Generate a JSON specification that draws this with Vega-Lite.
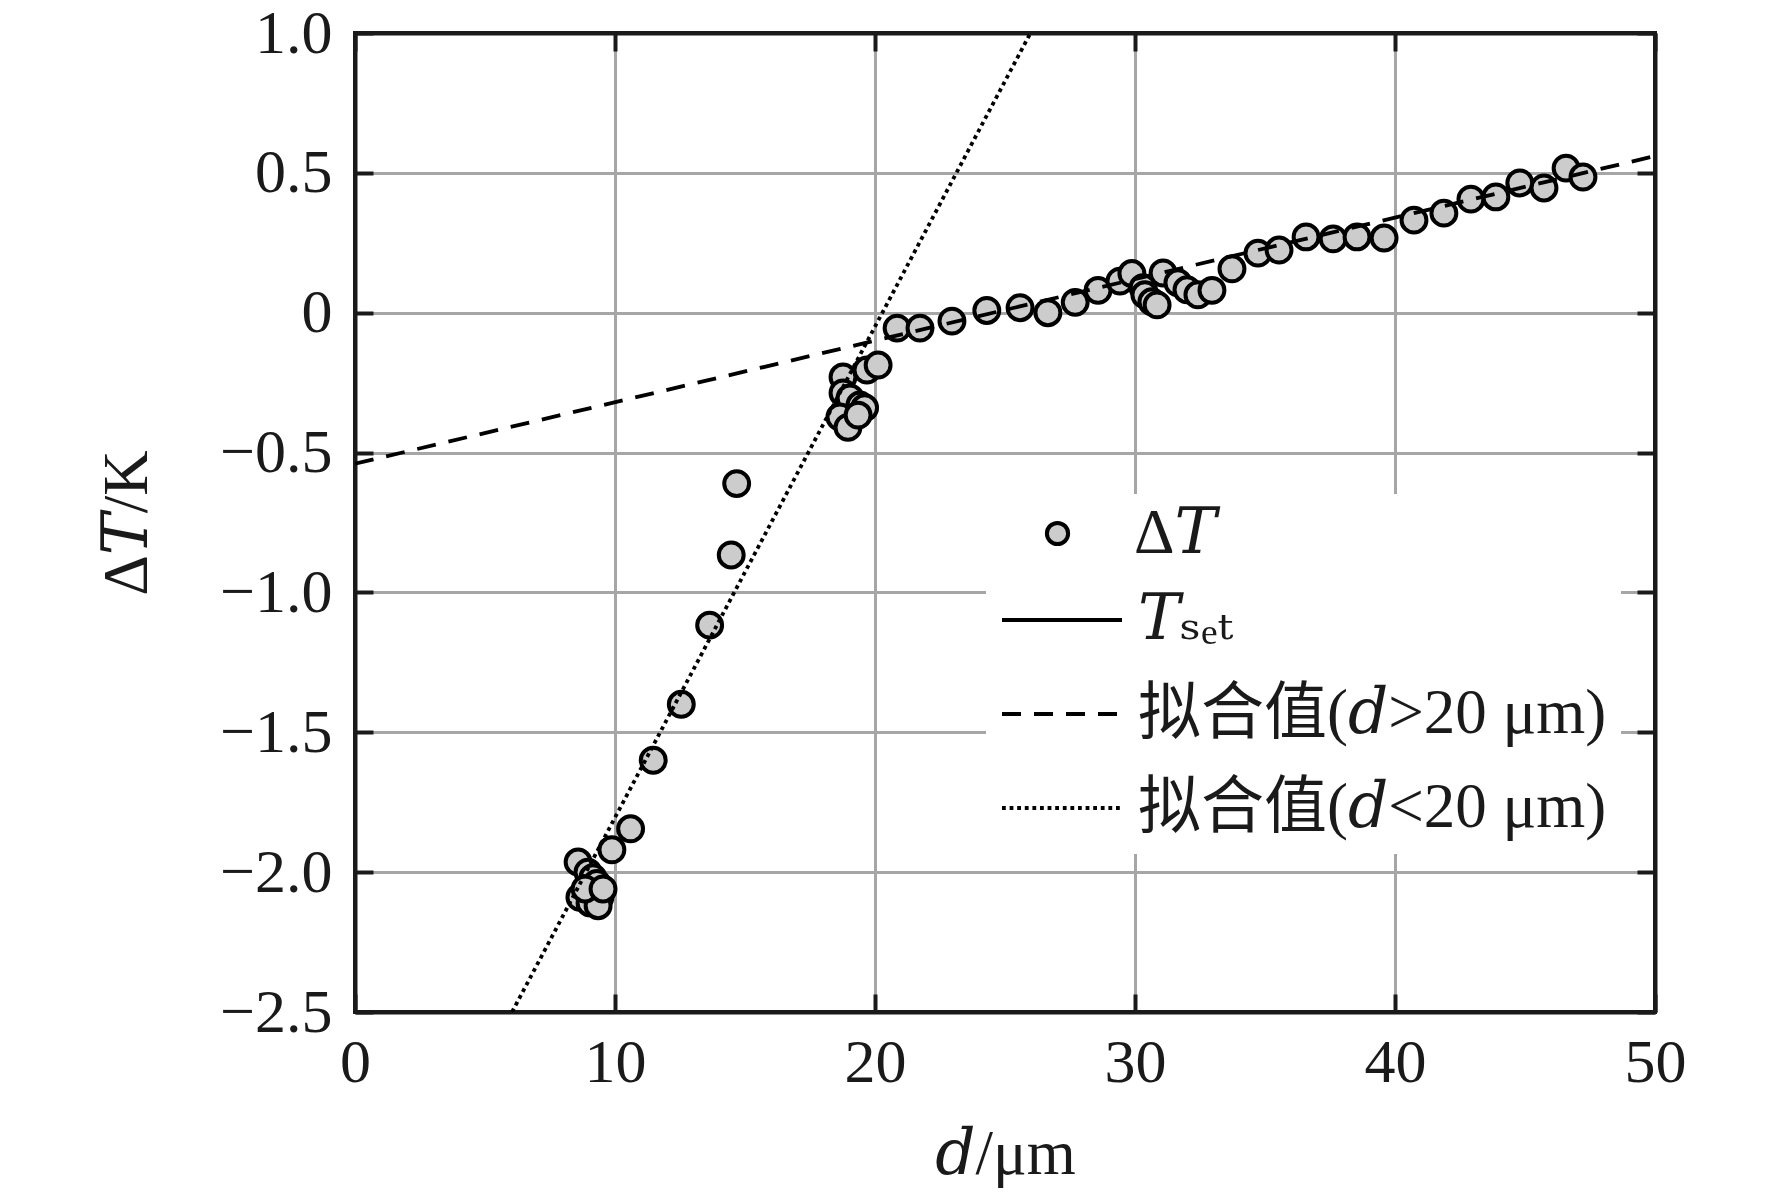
{
  "$schema": "https://vega.github.io/schema/vega-lite/v6.json",
  "width": 1300,
  "height": 979,
  "autosize": {"type": "none"},
  "padding": {"left": 355, "top": 33, "right": 117, "bottom": 187},
  "background": "white",
  "config": {
    "view": {"stroke": "#1a1a1a", "strokeWidth": 4},
    "font": "Liberation Serif"
  },
  "datasets": {
    "points": [
      {"d": 9.88, "dT": -1.92}, {"d": 8.58, "dT": -1.964}, {"d": 8.96, "dT": -2.0}, {"d": 9.15, "dT": -2.02},
      {"d": 9.3, "dT": -2.04}, {"d": 8.65, "dT": -2.09}, {"d": 9.04, "dT": -2.11}, {"d": 9.42, "dT": -2.09},
      {"d": 9.35, "dT": -2.12}, {"d": 8.85, "dT": -2.06}, {"d": 9.54, "dT": -2.06},
      {"d": 10.6, "dT": -1.845}, {"d": 11.47, "dT": -1.6}, {"d": 12.55, "dT": -1.4}, {"d": 13.64, "dT": -1.117},
      {"d": 14.47, "dT": -0.866}, {"d": 14.68, "dT": -0.611},
      {"d": 18.77, "dT": -0.23}, {"d": 18.77, "dT": -0.287}, {"d": 19.04, "dT": -0.305}, {"d": 19.42, "dT": -0.33},
      {"d": 19.6, "dT": -0.34}, {"d": 18.65, "dT": -0.373}, {"d": 18.96, "dT": -0.41}, {"d": 19.35, "dT": -0.366},
      {"d": 19.69, "dT": -0.205}, {"d": 20.12, "dT": -0.187},
      {"d": 20.85, "dT": -0.055}, {"d": 21.73, "dT": -0.055}, {"d": 22.96, "dT": -0.03}, {"d": 24.3, "dT": 0.008},
      {"d": 25.58, "dT": 0.018}, {"d": 26.65, "dT": 0.0}, {"d": 27.7, "dT": 0.037}, {"d": 28.58, "dT": 0.08},
      {"d": 29.42, "dT": 0.113}, {"d": 29.88, "dT": 0.14}, {"d": 30.31, "dT": 0.089}, {"d": 30.38, "dT": 0.064},
      {"d": 30.65, "dT": 0.039}, {"d": 30.85, "dT": 0.028}, {"d": 31.08, "dT": 0.142}, {"d": 31.65, "dT": 0.107},
      {"d": 32.0, "dT": 0.082}, {"d": 32.42, "dT": 0.064}, {"d": 32.96, "dT": 0.08}, {"d": 33.73, "dT": 0.157},
      {"d": 34.73, "dT": 0.213}, {"d": 35.54, "dT": 0.224}, {"d": 36.58, "dT": 0.271}, {"d": 37.62, "dT": 0.264},
      {"d": 38.54, "dT": 0.271}, {"d": 39.58, "dT": 0.267}, {"d": 40.73, "dT": 0.331}, {"d": 41.88, "dT": 0.356},
      {"d": 42.92, "dT": 0.406}, {"d": 43.88, "dT": 0.414}, {"d": 44.8, "dT": 0.464}, {"d": 45.73, "dT": 0.446},
      {"d": 46.58, "dT": 0.517}, {"d": 47.23, "dT": 0.485}
    ],
    "fits": [
      {"series": "拟合值(𝑑>20 μm)", "d": 0, "dT": -0.54},
      {"series": "拟合值(𝑑>20 μm)", "d": 50, "dT": 0.56},
      {"series": "拟合值(𝑑<20 μm)", "d": 6.04, "dT": -2.5},
      {"series": "拟合值(𝑑<20 μm)", "d": 25.98, "dT": 1.0}
    ]
  },
  "layer": [
    {
      "data": {"name": "points"},
      "mark": {"type": "point", "filled": false, "fill": "#cccccc", "fillOpacity": 1, "stroke": "black", "strokeWidth": 4, "size": 620, "opacity": 1},
      "encoding": {
        "x": {
          "field": "d", "type": "quantitative",
          "scale": {"domain": [0, 50], "nice": false, "zero": false},
          "axis": {
            "orient": "bottom", "values": [0, 10, 20, 30, 40, 50], "title": "𝑑/μm",
            "grid": true, "gridColor": "#a6a6a6", "gridWidth": 3,
            "gridOpacity": {"condition": {"test": "datum.value == 0 || datum.value == 50", "value": 0}, "value": 1},
            "tickSize": -18, "tickWidth": 4, "tickColor": "#1a1a1a",
            "domain": true, "domainColor": "#1a1a1a", "domainWidth": 4,
            "labelPadding": 38, "labelFontSize": 62, "labelFont": "Liberation Serif", "labelColor": "#1a1a1a", "labelFlush": false,
            "titleFontSize": 63, "titleFont": "Liberation Serif, DejaVu Serif", "titleFontWeight": "normal", "titleColor": "#1a1a1a", "titlePadding": 30
          }
        },
        "y": {
          "field": "dT", "type": "quantitative",
          "scale": {"domain": [-2.5, 1.0], "nice": false, "zero": false},
          "axis": {
            "orient": "left", "values": [-2.5, -2, -1.5, -1, -0.5, 0, 0.5, 1], "title": "Δ𝑇/K",
            "labelExpr": "datum.value == 0 ? '0' : format(datum.value, '.1f')",
            "grid": true, "gridColor": "#a6a6a6", "gridWidth": 3,
            "gridOpacity": {"condition": {"test": "datum.value == 1 || datum.value == -2.5", "value": 0}, "value": 1},
            "tickSize": -18, "tickWidth": 4, "tickColor": "#1a1a1a",
            "domain": true, "domainColor": "#1a1a1a", "domainWidth": 4,
            "labelPadding": 41, "labelFontSize": 62, "labelFont": "Liberation Serif", "labelColor": "#1a1a1a", "labelFlush": false,
            "titleFontSize": 63, "titleFont": "Liberation Serif, DejaVu Serif", "titleFontWeight": "normal", "titleColor": "#1a1a1a", "titlePadding": 60
          }
        },
        "shape": {
          "datum": "Δ𝑇", "type": "nominal",
          "scale": {"domain": ["Δ𝑇"], "range": ["circle"]},
          "legend": {
            "title": null,
            "orient": "none",
            "legendX": 671,
            "legendY": 469,
            "padding": 0,
            "zindex": 2,
            "symbolSize": 450,
            "symbolStrokeWidth": 4,
            "labelFont": "Liberation Serif, DejaVu Serif",
            "labelFontSize": 63,
            "labelColor": "#1a1a1a",
            "labelLimit": 0,
            "labelOffset": 45
          }
        }
      }
    },
    {
      "data": {"name": "fits"},
      "mark": {"type": "line", "color": "black", "strokeWidth": 3.8, "clip": true},
      "encoding": {
        "x": {
          "field": "d", "type": "quantitative",
          "axis": {"orient": "top", "values": [0, 10, 20, 30, 40, 50], "labels": false, "title": null, "grid": false,
                   "tickSize": -18, "tickWidth": 4, "tickColor": "#1a1a1a", "domain": true, "domainColor": "#1a1a1a", "domainWidth": 4}
        },
        "y": {
          "field": "dT", "type": "quantitative",
          "axis": {"orient": "right", "values": [-2.5, -2, -1.5, -1, -0.5, 0, 0.5, 1], "labels": false, "title": null, "grid": false,
                   "tickSize": -18, "tickWidth": 4, "tickColor": "#1a1a1a", "domain": true, "domainColor": "#1a1a1a", "domainWidth": 4}
        },
        "strokeDash": {
          "field": "series", "type": "nominal",
          "scale": {
            "domain": ["𝑇ₛₑₜ", "拟合值(𝑑>20 μm)", "拟合值(𝑑<20 μm)"],
            "range": [[1, 0], [19, 13], [3.8, 3.8]]
          },
          "legend": {
            "title": " ",
            "titleFontSize": 50,
            "titlePadding": 0,
            "orient": "none",
            "legendX": 631,
            "legendY": 461,
            "fillColor": "white",
            "padding": 14,
            "zindex": 1,
            "symbolType": "stroke",
            "symbolSize": 14400,
            "symbolStrokeWidth": 3.8,
            "symbolStrokeColor": "black",
            "labelFont": "Liberation Serif, DejaVu Serif, Noto Sans CJK SC",
            "labelFontSize": 63,
            "labelColor": "#1a1a1a",
            "labelLimit": 0,
            "labelOffset": 14,
            "rowPadding": -6
          }
        }
      }
    }
  ],
  "resolve": {"axis": {"x": "independent", "y": "independent"}}
}
